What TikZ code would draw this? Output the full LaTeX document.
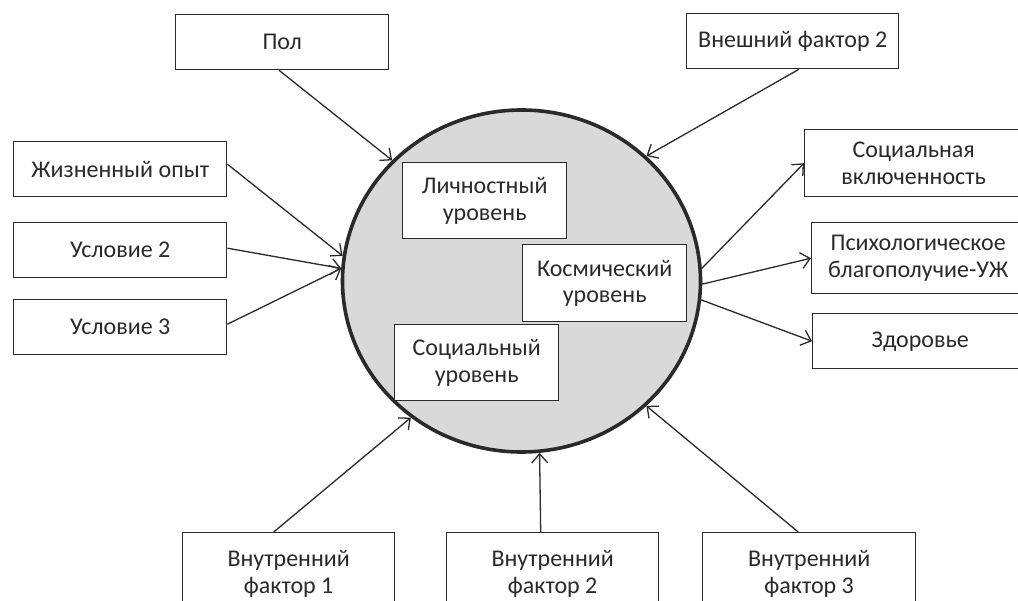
\documentclass[tikz,border=0pt]{standalone}
\usepackage{fontspec}
\setmainfont{Carlito}
\usetikzlibrary{arrows.meta,shapes.geometric}
\definecolor{ink}{HTML}{2A2A2A}
\definecolor{disc}{HTML}{D9D9D9}
\begin{document}
\begin{tikzpicture}[x=1pt,y=-1pt,
  box/.style={draw=ink, line width=1.4pt, fill=white, rectangle, inner sep=0pt,
    align=center, font=\fontsize{24}{26.5}\selectfont, text=ink, anchor=north west},
  arr/.style={draw=ink, line width=1.3pt,
    -{Straight Barb[length=9pt,width=16pt,line width=1.3pt]}},
]
\useasboundingbox (0,0) rectangle (1018,601);
\begin{scope}
\clip (0,0) rectangle (1018,601);
% central disc
\node[ellipse, draw=ink, fill=disc, line width=3.6pt, minimum width=358pt,
  minimum height=342pt, inner sep=0pt] (c) at (521.5,281) {};
% inner boxes
\node[box, minimum width=164pt, minimum height=76pt] (lic) at (402,162) {Личностный\\уровень};
\node[box, minimum width=164pt, minimum height=77pt] (kos) at (522,244) {Космический\\уровень};
\node[box, minimum width=164pt, minimum height=76pt] (soc) at (394,324) {Социальный\\уровень};
% outer boxes
\node[box, minimum width=213pt, minimum height=55pt] (pol) at (175,14) {Пол};
\node[box, minimum width=213pt, minimum height=55pt] (zh) at (13,141) {Жизненный опыт};
\node[box, minimum width=213pt, minimum height=55pt] (u2) at (13,222) {Условие 2};
\node[box, minimum width=213pt, minimum height=55pt] (u3) at (13,299) {Условие 3};
\node[box, minimum width=212pt, minimum height=55pt] (vf) at (686,13) {Внешний фактор 2};
\node[box, minimum width=218pt, minimum height=67pt] (sv) at (804,129) {Социальная\\включенность};
\node[box, minimum width=213pt, minimum height=71pt] (pb) at (811,222) {Психологическое\\благополучие-УЖ};
\node[box, minimum width=215pt, minimum height=55pt] (zd) at (812,313) {Здоровье};
\node[box, minimum width=212pt, minimum height=82pt] (in1) at (182,532) {Внутренний\\фактор 1};
\node[box, minimum width=212pt, minimum height=82pt] (in2) at (446,532) {Внутренний\\фактор 2};
\node[box, minimum width=213pt, minimum height=82pt] (in3) at (702,532) {Внутренний\\фактор 3};
% connectors
\draw[arr] ([xshift=-3pt]pol.south) -- (c.137);
\draw[arr] ([yshift=5pt]zh.east) -- (c.172);
\draw[arr] ([yshift=2pt]u2.east) -- (c.176);
\draw[arr] ([yshift=3pt]u3.east) -- (c.176);
\draw[arr] ([xshift=6pt]vf.south) -- (c.45);
\draw[arr] ([xshift=-15pt]in1.north) -- (c.231);
\draw[arr] ([xshift=-12pt]in2.north) -- (c.276);
\draw[arr] ([xshift=-11pt]in3.north) -- (c.315.5);
\draw[arr] (c.4) -- (sv.west);
\draw[arr] (c.-1) -- (pb.west);
\draw[arr] (c.-6) -- (zd.west);
\end{scope}
\end{tikzpicture}
\end{document}
